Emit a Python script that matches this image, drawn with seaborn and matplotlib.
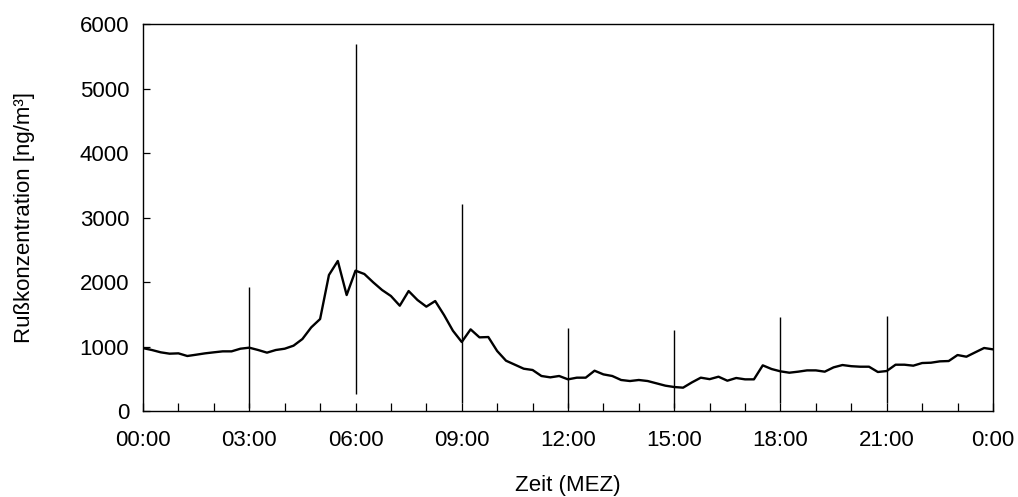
import numpy as np
import pandas as pd
import matplotlib
matplotlib.use("Agg")
import matplotlib.pyplot as plt
from matplotlib.ticker import MultipleLocator, FixedLocator
import seaborn as sns

# Mean soot (black carbon) concentration over the day, 15-minute values
soot_ng_m3 = [
    975, 946, 910, 889, 894, 853, 873, 894, 910, 925, 925, 966,
    982, 946, 905, 946, 966, 1013, 1116, 1297, 1426, 2109, 2326, 1798,
    2176, 2124, 1995, 1876, 1783, 1633, 1860, 1721, 1618, 1705, 1488, 1245,
    1070, 1266, 1142, 1147, 930, 780, 718, 656, 636, 543, 522, 543,
    491, 517, 517, 625, 568, 543, 481, 465, 481, 465, 429, 393,
    372, 362, 444, 517, 494, 532, 470, 512, 491, 491, 708, 651,
    615, 594, 610, 630, 630, 610, 677, 713, 695, 687, 687, 605,
    620, 718, 718, 703, 744, 749, 770, 775, 868, 842, 910, 977,
    956,
]
step_minutes = 15

# Range (min/max) at the three-hourly marks
range_hours = [3, 6, 9, 12, 15, 18, 21]
range_low = [40, 260, 120, 40, 40, 120, 130]
range_high = [1930, 5690, 3210, 1290, 1260, 1465, 1475]

tick_hours = [0, 3, 6, 9, 12, 15, 18, 21, 24]
tick_labels = ["00:00", "03:00", "06:00", "09:00", "12:00", "15:00",
               "18:00", "21:00", "0:00"]

df = pd.DataFrame({
    "hour": np.arange(len(soot_ng_m3)) * step_minutes / 60.0,
    "soot": soot_ng_m3,
})

sns.set_theme(style="ticks")
plt.rcParams["font.family"] = ["Liberation Sans", "DejaVu Sans"]

fig = plt.figure(figsize=(10.18, 4.97), dpi=100)
ax = fig.add_axes([0.1405, 0.173, 0.8349, 0.7787])

ax.vlines(range_hours, range_low, range_high, colors="black", linewidth=1.0)
sns.lineplot(data=df, x="hour", y="soot", ax=ax, color="black",
             linewidth=1.7)

ax.set_xlim(0, 24)
ax.set_ylim(0, 6000)
ax.xaxis.set_major_locator(FixedLocator(tick_hours))
ax.set_xticklabels(tick_labels)
ax.xaxis.set_minor_locator(MultipleLocator(1))
ax.yaxis.set_major_locator(MultipleLocator(1000))

ax.tick_params(axis="x", which="both", direction="in", length=6, width=0.9,
               color="black", labelsize=16, pad=14, labelcolor="black")
ax.tick_params(axis="y", which="major", direction="in", length=5, width=0.9,
               color="black", labelsize=16, pad=10, labelcolor="black")

for side in ["left", "right", "top", "bottom"]:
    ax.spines[side].set_visible(True)
    ax.spines[side].set_color("black")
    ax.spines[side].set_linewidth(1.0)

ax.set_xlabel("Zeit (MEZ)", fontsize=16, labelpad=17, color="black")
ax.set_ylabel("Rußkonzentration [ng/m³]", fontsize=16, labelpad=32,
              color="black")
ax.grid(False)

fig.savefig("out.png", dpi=100, facecolor="white")
